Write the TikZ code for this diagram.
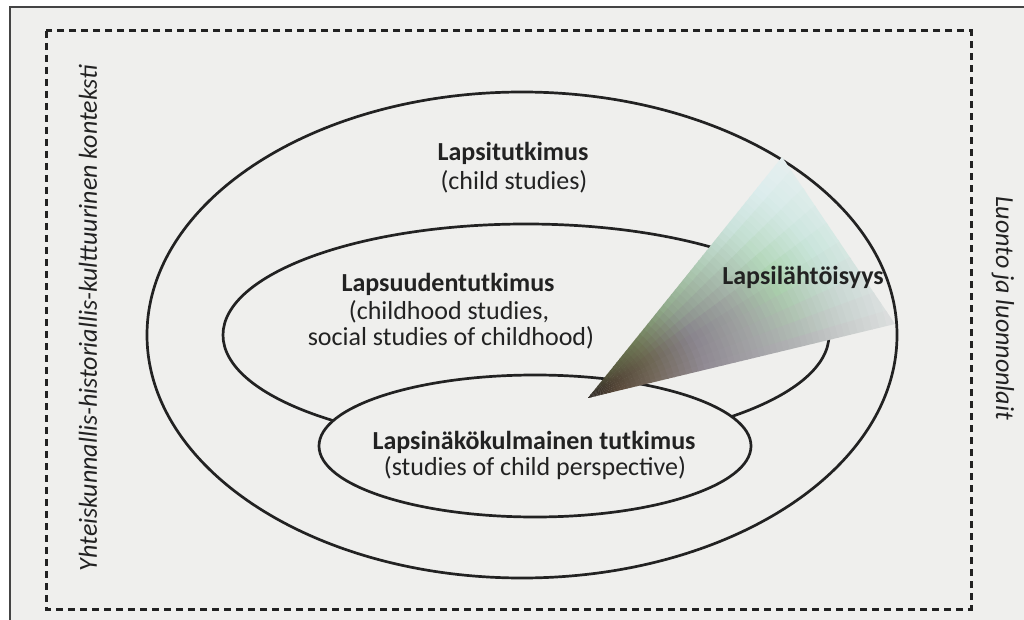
\documentclass[tikz,border=0pt]{standalone}
\usepackage{fontspec}
\setmainfont{Carlito}
\definecolor{bg}{HTML}{EFEFED}
\definecolor{ink}{HTML}{222222}
\definecolor{frameline}{HTML}{444444}
% top edge (B side) stops
\definecolor{t0}{HTML}{2B2622}\definecolor{t1}{HTML}{55553C}\definecolor{t2}{HTML}{6E7A55}\definecolor{t3}{HTML}{93AF8E}
\definecolor{t4}{HTML}{AFCCB5}\definecolor{t5}{HTML}{CCE3DE}\definecolor{t6}{HTML}{DEEDEE}\definecolor{t7}{HTML}{EAF0F0}
% middle stops
\definecolor{m0}{HTML}{2B2622}\definecolor{m1}{HTML}{514436}\definecolor{m2}{HTML}{6B6450}\definecolor{m3}{HTML}{88838C}
\definecolor{m4}{HTML}{9CA29E}\definecolor{m5}{HTML}{A9D2AB}\definecolor{m6}{HTML}{C8E4DA}\definecolor{m7}{HTML}{E6EFEE}
% bottom edge (C side) stops
\definecolor{b0}{HTML}{2B2622}\definecolor{b1}{HTML}{5A4A3A}\definecolor{b2}{HTML}{766A5F}\definecolor{b3}{HTML}{918B94}
\definecolor{b4}{HTML}{A3A1A6}\definecolor{b5}{HTML}{B4B4B7}\definecolor{b6}{HTML}{CACCCC}\definecolor{b7}{HTML}{E2E4E4}
\begin{document}
\begin{tikzpicture}[x=1pt,y=-1pt,
  ring/.style={draw=ink, line width=2.7pt},
  dashbox/.style={draw=ink, line width=3pt, dash pattern=on 7pt off 5pt},
  lbl/.style={text=ink, font=\fontsize{26}{31}\selectfont, align=center, inner sep=0pt},
  side/.style={text=ink, font=\fontsize{26}{31}\selectfont\itshape, inner sep=0pt}]
\useasboundingbox (0,0) rectangle (1024,620);
\fill[white] (0,0) rectangle (1024,620);
\fill[bg] (10,7) rectangle (1024,620);
\draw[frameline, line width=1.8pt] (1030,7) -- (10,7) -- (10,630);
\draw[dashbox] (46,31) rectangle (971,609);
% rings
\draw[ring] (522,335) ellipse [x radius=375, y radius=243];
\draw[ring] (526,335) ellipse [x radius=303, y radius=111];
\filldraw[ring, fill=bg] (535,446) ellipse [x radius=216, y radius=71];
% cone
\begin{scope}
\clip (588,398) -- (782,157) -- (895,324) -- cycle;
\begin{scope}[shift={(588,398)}, rotate=32.3]
\foreach \sa/\sb/\ta/\tb/\ma/\mb/\ba/\bb in {0/30/t0/t1/m0/m1/b0/b1, 30/70/t1/t2/m1/m2/b1/b2, 70/120/t2/t3/m2/m3/b2/b3, 120/170/t3/t4/m3/m4/b3/b4, 170/220/t4/t5/m4/m5/b4/b5, 220/270/t5/t6/m5/m6/b5/b6, 270/330/t6/t7/m6/m7/b6/b7} {
  \foreach \j in {0,...,7} {
    \pgfmathtruncatemacro\m{(\j+0.5)*100/8}
    \colorlet{cT}{\tb!\m!\ta}
    \colorlet{cM}{\mb!\m!\ma}
    \colorlet{cB}{\bb!\m!\ba}
    \pgfmathsetmacro\ra{\sa+(\sb-\sa)*\j/8}
    \pgfmathsetmacro\rb{\sa+(\sb-\sa)*(\j+1)/8+0.8}
    \foreach \k in {0,...,5} {
      \pgfmathsetmacro\pa{-24+4*\k}
      \pgfmathsetmacro\pb{\pa+4.4}
      \pgfmathtruncatemacro\w{min(100,(22-4*\k)/19*100)}
      \fill[cT!\w!cM] (\pa:\ra) -- (\pa:\rb) -- (\pb:\rb) -- (\pb:\ra) -- cycle;
      \pgfmathsetmacro\qa{4*\k}
      \pgfmathsetmacro\qb{\qa+4.4}
      \pgfmathtruncatemacro\v{min(100,(4*\k+2)/19*100)}
      \fill[cB!\v!cM] (\qa:\ra) -- (\qa:\rb) -- (\qb:\rb) -- (\qb:\ra) -- cycle;
    }
  }
}
\end{scope}
\end{scope}
% labels
\node[lbl] (lt) at (513,153) {\textbf{Lapsitutkimus}};
\node[lbl] (ltsub) at (514,182) {(child studies)};
\node[lbl] (lu) at (448,284) {\textbf{Lapsuudentutkimus}};
\node[lbl] (lusub1) at (449,312) {(childhood studies,};
\node[lbl] (lusub2) at (451,338) {social studies of childhood)};
\node[lbl] (ln) at (534,442) {\textbf{Lapsinäkökulmainen tutkimus}};
\node[lbl] (lnsub) at (535,468) {(studies of child perspective)};
\node[lbl] (cone) at (803,277) {\textbf{Lapsilähtöisyys}};
\node[side, rotate=90] (ctx) at (88,318) {Yhteiskunnallis-historiallis-kulttuurinen konteksti};
\node[side, rotate=-90] (nat) at (1003,308) {Luonto ja luonnonlait};
\end{tikzpicture}
\end{document}
